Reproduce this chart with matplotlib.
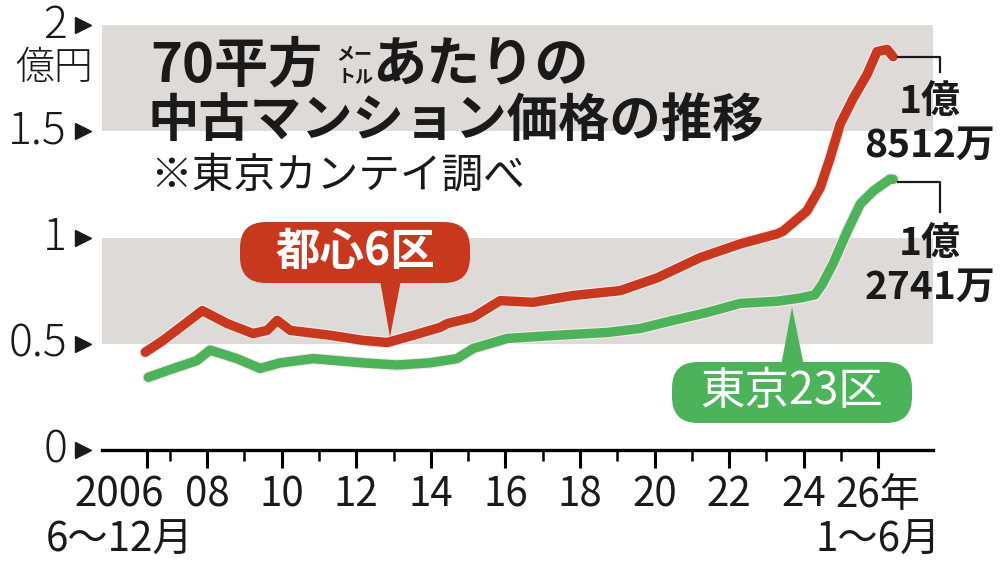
import matplotlib
matplotlib.use('Agg')
import matplotlib.pyplot as plt
from matplotlib.patches import FancyBboxPatch, Polygon
from matplotlib.lines import Line2D
from matplotlib.transforms import blended_transform_factory
import matplotlib.patheffects as pe

plt.rcParams['font.family'] = ['Noto Sans CJK JP', 'DejaVu Sans']

# 都心6区 (億円)
red_years = [2006.34, 2006.82, 2007.28, 2007.87, 2008.54, 2009.23, 2009.61, 2009.88,
             2010.23, 2011.30, 2012.18, 2012.83, 2013.53, 2014.25, 2014.44, 2015.14,
             2015.86, 2016.74, 2017.82, 2019.08, 2020.07, 2021.22, 2022.30, 2023.29,
             2023.45, 2024.09, 2024.44, 2024.71, 2024.98, 2025.33, 2025.70, 2025.97,
             2026.24, 2026.40]
red_vals = [0.46, 0.516, 0.577, 0.656, 0.595, 0.548, 0.563, 0.61,
            0.563, 0.54, 0.516, 0.506, 0.54, 0.577, 0.595, 0.625,
            0.703, 0.695, 0.727, 0.75, 0.81, 0.905, 0.97, 1.017,
            1.03, 1.125, 1.233, 1.374, 1.533, 1.655, 1.767, 1.875,
            1.885, 1.851]

# 東京23区 (億円)
green_years = [2006.42, 2007.10, 2007.72, 2008.08, 2008.80, 2009.42, 2009.96, 2010.85,
               2012.18, 2013.09, 2013.97, 2014.70, 2015.14, 2016.05, 2017.39, 2018.73,
               2019.62, 2020.50, 2021.41, 2022.30, 2023.29, 2023.90, 2024.30, 2024.50,
               2024.79, 2025.17, 2025.52, 2025.87, 2026.32, 2026.40]
green_vals = [0.342, 0.384, 0.42, 0.47, 0.43, 0.384, 0.41, 0.43,
              0.41, 0.40, 0.41, 0.43, 0.478, 0.525, 0.54, 0.553,
              0.572, 0.61, 0.647, 0.69, 0.70, 0.715, 0.73, 0.78,
              0.877, 1.03, 1.158, 1.219, 1.275, 1.274]

ytick_vals = [0, 0.5, 1, 1.5, 2]
ytick_labels = ['0', '0.5', '1', '1.5', '2']
xmajor = [2006.4, 2008, 2010, 2012, 2014, 2016, 2018, 2020, 2022, 2024, 2026]
xmajor_labels = ['2006', '08', '10', '12', '14', '16', '18', '20', '22', '24', '26年']
xminor = [2007, 2009, 2011, 2013, 2015, 2017, 2019, 2021, 2023, 2025]

RED = '#c7381f'
GREEN = '#4db35a'
BAND = '#dedad7'
INK = '#1a1a1a'

fig = plt.figure(figsize=(10, 5.71), dpi=100)
W, H = 1000, 571


def fx(x):
    return x / W


def fy(y):
    return 1 - y / H


ax = fig.add_axes([fx(102), fy(450), fx(933) - fx(102), fy(25) - fy(450)])
ax.set_xlim(2005.18, 2027.47)
ax.set_ylim(0, 2)
ax.axhspan(0.5, 1, color=BAND, lw=0, zorder=0)
ax.axhspan(1.5, 2, color=BAND, lw=0, zorder=0)

for s in ['top', 'left', 'right']:
    ax.spines[s].set_visible(False)
ax.spines['bottom'].set_linewidth(2.4)
ax.set_yticks([])
ax.set_xticks(xmajor)
ax.set_xticklabels([])
ax.set_xticks(xminor, minor=True)
ax.tick_params(axis='x', which='major', length=13, width=2.2, direction='out')
ax.tick_params(axis='x', which='minor', length=8, width=1.8, direction='out')

halo = [pe.Stroke(linewidth=8.5, foreground='#f4e9e6'), pe.Normal()]
ax.plot(red_years, red_vals, color=RED, lw=6.8, solid_capstyle='round',
        solid_joinstyle='round', path_effects=halo, zorder=3, clip_on=False)
ax.plot(green_years, green_vals, color=GREEN, lw=6.8, solid_capstyle='round',
        solid_joinstyle='round', path_effects=halo, zorder=3, clip_on=False)

# y axis labels with triangles
ytr = blended_transform_factory(fig.transFigure, ax.transData)
for v, lab in zip(ytick_vals, ytick_labels):
    ax.text(fx(67), v, lab, transform=ytr, ha='right', va='center',
            fontsize=32, fontweight='light', color=INK)
ax.plot([fx(83)] * len(ytick_vals), ytick_vals, ls='none', marker='>', ms=12,
        color=INK, transform=ytr, clip_on=False)
fig.text(fx(54), fy(68), '億円', ha='center', va='center', fontsize=28,
         fontweight='light', color=INK)

# x axis labels
xtr = blended_transform_factory(ax.transData, fig.transFigure)
for p, lab in zip(xmajor, xmajor_labels):
    if lab == '2006':
        ax.text(2006.83, fy(495), lab, transform=xtr, ha='right', va='center',
                fontsize=29, color=INK)
    else:
        ax.text(p, fy(495), lab, transform=xtr, ha='center', va='center',
                fontsize=29, color=INK)
fig.text(fx(46), fy(540), '6〜12月', ha='left', va='center', fontsize=29, color=INK)
fig.text(fx(941), fy(540), '1〜6月', ha='right', va='center', fontsize=29, color=INK)

# title
fig.text(fx(150), fy(66), '70平方', ha='left', va='center', fontsize=39,
         fontweight='bold', color=INK)
fig.text(fx(336), fy(55), 'メー', ha='left', va='center', fontsize=13,
         fontweight='bold', color=INK)
fig.text(fx(338), fy(77), 'トル', ha='left', va='center', fontsize=13,
         fontweight='bold', color=INK)
fig.text(fx(372), fy(66), 'あたりの', ha='left', va='center', fontsize=39,
         fontweight='bold', color=INK)
fig.text(fx(148), fy(121), '中古マンション価格の推移', ha='left', va='center',
         fontsize=37, fontweight='bold', color=INK)
fig.text(fx(150), fy(176), '※東京カンテイ調べ', ha='left', va='center',
         fontsize=30, color=INK)

# series labels in rounded boxes
inch = fig.dpi_scale_trans


def tag(x0, x1, y0, y1, base, tip, text, color, weight):
    box = FancyBboxPatch((x0 / 100, (H - y1) / 100), (x1 - x0) / 100, (y1 - y0) / 100,
                         boxstyle='round,pad=0,rounding_size=0.26', transform=inch,
                         facecolor=color, edgecolor='none', zorder=5)
    fig.patches.append(box)
    tri = Polygon([(base[0] / 100, (H - base[2]) / 100), (base[1] / 100, (H - base[2]) / 100),
                   (tip[0] / 100, (H - tip[1]) / 100)], closed=True, transform=inch,
                  facecolor=color, edgecolor='none', zorder=5)
    fig.patches.append(tri)
    fig.text(fx((x0 + x1) / 2), fy((y0 + y1) / 2 - 1), text, ha='center', va='center',
             fontsize=32, fontweight=weight, color='white', zorder=6)


tag(240, 470, 222, 283, (380, 401, 280), (390, 337), '都心6区', RED, 'bold')
tag(672, 912, 362, 423, (781, 804, 366), (792, 307), '東京23区', GREEN, 'normal')

# end values
for pts in [[(898, 57), (940, 57), (940, 72)], [(898, 182), (940, 182), (940, 212)]]:
    fig.lines.append(Line2D([fx(p[0]) for p in pts], [fy(p[1]) for p in pts],
                            transform=fig.transFigure, color=INK, lw=1.6))
for y, lab in [(101, '1億'), (145, '8512万'), (243, '1億'), (287, '2741万')]:
    fig.text(fx(930), fy(y), lab, ha='center', va='center', fontsize=28,
             fontweight='bold', color=INK)

fig.savefig('out.png', dpi=100)
